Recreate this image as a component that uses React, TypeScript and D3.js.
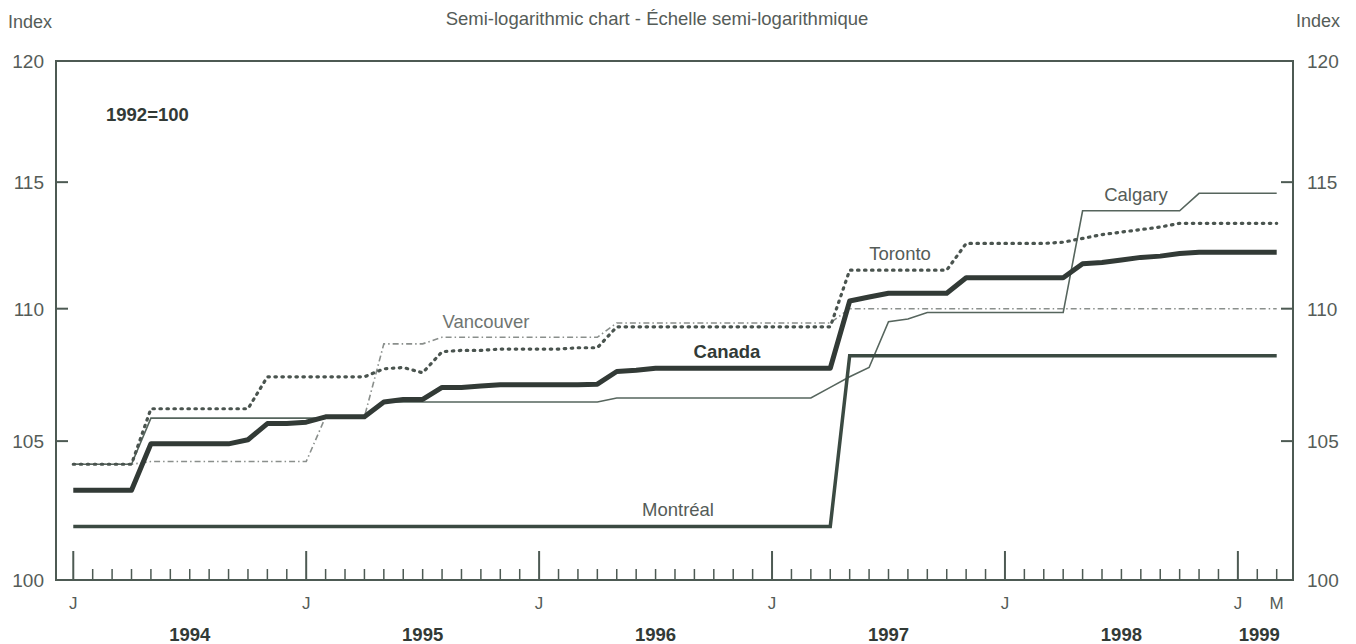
import React from "react";
import * as d3 from "d3";

// month index 0 = January 1994, 62 = March 1999
const months = d3.range(63);

const canada = [
  103.2, 103.2, 103.2, 103.2, 104.9, 104.9, 104.9, 104.9, 104.9, 105.05, 105.65, 105.65,
  105.7, 105.9, 105.9, 105.9, 106.45, 106.55, 106.55, 107.0, 107.0, 107.05, 107.1, 107.1,
  107.1, 107.1, 107.1, 107.12, 107.6, 107.65, 107.72, 107.72, 107.72, 107.72, 107.72, 107.72,
  107.72, 107.72, 107.72, 107.72, 110.3, 110.45, 110.6, 110.6, 110.6, 110.6, 111.2, 111.2,
  111.2, 111.2, 111.2, 111.2, 111.75, 111.8, 111.9, 112.0, 112.05, 112.15, 112.2, 112.2,
  112.2, 112.2, 112.2,
];

const montreal = [
  101.9, 101.9, 101.9, 101.9, 101.9, 101.9, 101.9, 101.9, 101.9, 101.9, 101.9, 101.9,
  101.9, 101.9, 101.9, 101.9, 101.9, 101.9, 101.9, 101.9, 101.9, 101.9, 101.9, 101.9,
  101.9, 101.9, 101.9, 101.9, 101.9, 101.9, 101.9, 101.9, 101.9, 101.9, 101.9, 101.9,
  101.9, 101.9, 101.9, 101.9, 108.2, 108.2, 108.2, 108.2, 108.2, 108.2, 108.2, 108.2,
  108.2, 108.2, 108.2, 108.2, 108.2, 108.2, 108.2, 108.2, 108.2, 108.2, 108.2, 108.2,
  108.2, 108.2, 108.2,
];

const calgary = [
  104.15, 104.15, 104.15, 104.15, 105.85, 105.85, 105.85, 105.85, 105.85, 105.85, 105.85, 105.85,
  105.85, 105.85, 105.85, 105.85, 106.45, 106.45, 106.45, 106.45, 106.45, 106.45, 106.45, 106.45,
  106.45, 106.45, 106.45, 106.45, 106.6, 106.6, 106.6, 106.6, 106.6, 106.6, 106.6, 106.6,
  106.6, 106.6, 106.6, 107.0, 107.4, 107.75, 109.5, 109.6, 109.85, 109.85, 109.85, 109.85,
  109.85, 109.85, 109.85, 109.85, 113.85, 113.85, 113.85, 113.85, 113.85, 113.85, 114.55, 114.55,
  114.55, 114.55, 114.55,
];

const toronto = [
  104.15, 104.15, 104.15, 104.15, 106.2, 106.2, 106.2, 106.2, 106.2, 106.2, 107.4, 107.4,
  107.4, 107.4, 107.4, 107.4, 107.7, 107.75, 107.55, 108.35, 108.4, 108.4, 108.45, 108.45,
  108.45, 108.45, 108.5, 108.5, 109.3, 109.3, 109.3, 109.3, 109.3, 109.3, 109.3, 109.3,
  109.3, 109.3, 109.3, 109.3, 111.5, 111.5, 111.5, 111.5, 111.5, 111.5, 112.55, 112.55,
  112.55, 112.55, 112.55, 112.6, 112.75, 112.9, 113.0, 113.1, 113.2, 113.35, 113.35, 113.35,
  113.35, 113.35, 113.35,
];

const vancouver = [
  104.15, 104.15, 104.15, 104.15, 104.25, 104.25, 104.25, 104.25, 104.25, 104.25, 104.25, 104.25,
  104.25, 105.9, 105.9, 105.9, 108.65, 108.65, 108.65, 108.9, 108.9, 108.9, 108.9, 108.9,
  108.9, 108.9, 108.9, 108.9, 109.45, 109.45, 109.45, 109.45, 109.45, 109.45, 109.45, 109.45,
  109.45, 109.45, 109.45, 109.45, 110.0, 110.0, 110.0, 110.0, 110.0, 110.0, 110.0, 110.0,
  110.0, 110.0, 110.0, 110.0, 110.0, 110.0, 110.0, 110.0, 110.0, 110.0, 110.0, 110.0,
  110.0, 110.0, 110.0,
];

const yTicks = [100, 105, 110, 115, 120];
const monthLetters = ["J", "J", "J", "J", "J", "J", "M"];
const letterMonths = [0, 12, 24, 36, 48, 60, 62];
const yearLabels = ["1994", "1995", "1996", "1997", "1998", "1999"];
const yearMonths = [6, 18, 30, 42, 54, 61.1];

const font = "'Liberation Sans', Arial, sans-serif";

export default function App() {
  const width = 1356;
  const height = 644;
  const plot = { left: 56, right: 1293, top: 61, bottom: 580 };

  const x = d3.scaleLinear().domain([-0.89, 62.84]).range([plot.left, plot.right]);
  const y = d3.scaleLog().domain([100, 120]).range([plot.bottom, plot.top]);

  const line = (vals: number[]) =>
    d3
      .line<number>()
      .x((_, i) => x(months[i]))
      .y((d) => y(d))(vals) as string;

  const grey = "#555c58";
  const dark = "#323a36";
  const axis = "#4d5a53";

  return (
    <svg
      width={width}
      height={height}
      style={{ position: "absolute", left: 0, top: 0, background: "#fff" }}
      fontFamily={font}
    >
      {/* titles */}
      <text x={8} y={28} fontSize={18} fill={grey}>Index</text>
      <text x={1340} y={27} fontSize={18} fill={grey} textAnchor="end">Index</text>
      <text x={657} y={25} fontSize={18.5} fill={grey} textAnchor="middle">
        Semi-logarithmic chart - Échelle semi-logarithmique
      </text>
      <text x={106} y={121} fontSize={18.5} fontWeight="bold" fill={dark}>1992=100</text>

      {/* frame */}
      <rect
        x={plot.left}
        y={plot.top}
        width={plot.right - plot.left}
        height={plot.bottom - plot.top}
        fill="none"
        stroke={axis}
        strokeWidth={2}
      />

      {/* y ticks and labels */}
      {yTicks.map((t) => (
        <g key={"y" + t}>
          {t > 100 && t < 120 && (
            <>
              <line x1={plot.left} x2={plot.left + 12} y1={y(t)} y2={y(t)} stroke={axis} strokeWidth={2} />
              <line x1={plot.right - 12} x2={plot.right} y1={y(t)} y2={y(t)} stroke={axis} strokeWidth={2} />
            </>
          )}
          <text x={44} y={y(t) + 7} fontSize={19} fill={grey} textAnchor="end">{t}</text>
          <text x={1307} y={y(t) + 7} fontSize={19} fill={grey}>{t}</text>
        </g>
      ))}

      {/* month ticks */}
      {months.map((m) => (
        <line
          key={"m" + m}
          x1={x(m)}
          x2={x(m)}
          y1={plot.bottom}
          y2={m % 12 === 0 ? plot.bottom - 29 : plot.bottom - 11}
          stroke={axis}
          strokeWidth={m % 12 === 0 ? 2 : 1.5}
        />
      ))}
      {monthLetters.map((l, i) => (
        <text key={"l" + i} x={x(letterMonths[i])} y={609} fontSize={17} fill={grey} textAnchor="middle">
          {l}
        </text>
      ))}
      {yearLabels.map((yr, i) => (
        <text key={yr} x={x(yearMonths[i])} y={641} fontSize={18.5} fontWeight="bold" fill={dark} textAnchor="middle">
          {yr}
        </text>
      ))}

      {/* series */}
      <path d={line(vancouver)} fill="none" stroke="#8a8f8c" strokeWidth={1.6} strokeDasharray="6 3 1.5 3" />
      <path d={line(calgary)} fill="none" stroke="#56655d" strokeWidth={1.6} />
      <path
        d={line(toronto)}
        fill="none"
        stroke="#4a544f"
        strokeWidth={3.2}
        strokeDasharray="1.5 5.5"
        strokeLinecap="round"
      />
      <path d={line(montreal)} fill="none" stroke="#3b4a42" strokeWidth={3.5} />
      <path d={line(canada)} fill="none" stroke={dark} strokeWidth={5} strokeLinejoin="round" />

      {/* series labels */}
      <text x={486} y={328} fontSize={18.5} fill="#6f7571" textAnchor="middle">Vancouver</text>
      <text x={727} y={358} fontSize={18.5} fontWeight="bold" fill={dark} textAnchor="middle">Canada</text>
      <text x={900} y={260} fontSize={18.5} fill={grey} textAnchor="middle">Toronto</text>
      <text x={1136} y={201} fontSize={18.5} fill={grey} textAnchor="middle">Calgary</text>
      <text x={678} y={516} fontSize={18.5} fill={grey} textAnchor="middle">Montréal</text>
    </svg>
  );
}
